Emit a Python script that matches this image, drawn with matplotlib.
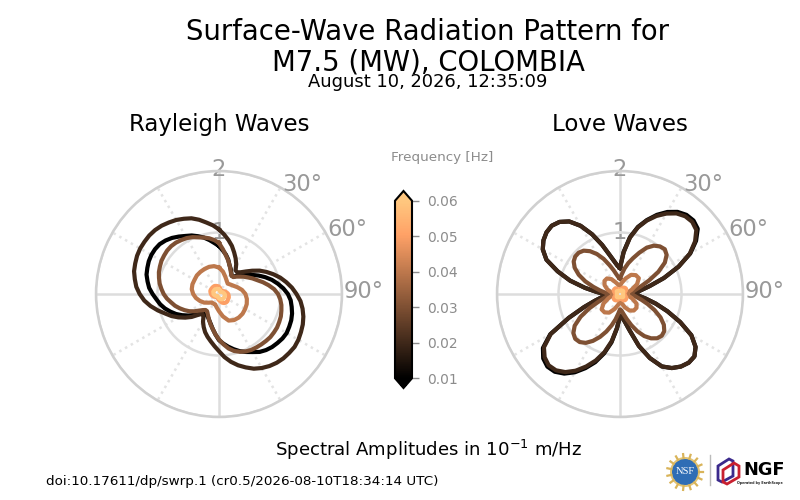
import matplotlib
matplotlib.use('Agg')
import matplotlib.pyplot as plt
import numpy as np
from matplotlib.cm import ScalarMappable
from matplotlib.colors import Normalize
from matplotlib.patches import Circle, Polygon

# azimuth samples (degrees clockwise from north)
azimuth_fine = list(range(0, 360, 5))
azimuth_coarse = list(range(0, 360, 10))
frequencies = [0.01, 0.02, 0.03, 0.04, 0.05, 0.06]
cbar_ticks = [0.01, 0.02, 0.03, 0.04, 0.05, 0.06]

# spectral amplitudes, one list per frequency
rayleigh_001 = [.78, .71, .65, .58, .50, .45, .40, .36, .37, .42, .48, .55, .62, .71, .80, .89, .97, 1.05,
                1.12, 1.17, 1.20, 1.23, 1.25, 1.26, 1.27, 1.26, 1.24, 1.22, 1.19, 1.15, 1.09, 1.04, .99, .93, .87, .81,
                .75, .66, .58, .51, .46, .42, .40, .38, .41, .46, .53, .61, .69, .77, .84, .91, .97, 1.02,
                1.08, 1.14, 1.18, 1.22, 1.24, 1.26, 1.27, 1.27, 1.26, 1.23, 1.19, 1.14, 1.09, 1.05, 1.00, .95, .89, .83]
rayleigh_002 = [1.05, .97, .89, .81, .72, .64, .56, .47, .46, .50, .57, .66, .76, .85, .94, 1.03, 1.11, 1.19,
                1.26, 1.33, 1.38, 1.42, 1.45, 1.47, 1.49, 1.50, 1.49, 1.48, 1.46, 1.43, 1.39, 1.34, 1.27, 1.20, 1.12, 1.03,
                .93, .85, .78, .72, .66, .59, .52, .44, .42, .48, .58, .67, .76, .85, .93, 1.03, 1.13, 1.22,
                1.29, 1.35, 1.39, 1.43, 1.45, 1.47, 1.48, 1.48, 1.48, 1.47, 1.45, 1.42, 1.39, 1.35, 1.31, 1.25, 1.18, 1.12]
rayleigh_003 = [.83, .73, .64, .57, .50, .44, .39, .36, .36, .40, .44, .49, .54, .60, .66, .74, .82, .90,
                .96, 1.00, 1.03, 1.05, 1.07, 1.08, 1.09, 1.09, 1.09, 1.08, 1.07, 1.06, 1.05, 1.03, 1.00, .96, .90, .82,
                .74, .66, .58, .52, .46, .41, .37, .34, .34, .37, .42, .49, .56, .62, .68, .74, .79, .85,
                .90, .94, .98, 1.01, 1.04, 1.06, 1.08, 1.09, 1.10, 1.10, 1.09, 1.07, 1.05, 1.02, .98, .95, .92, .88]
rayleigh_004 = [.43, .37, .30, .25, .22, .24, .27, .32, .38, .43, .46, .48, .49, .50, .50, .49, .46, .37,
                .28, .22, .18, .18, .18, .22, .28, .33, .38, .42, .45, .46, .46, .47, .47, .47, .47, .46]
rayleigh_005 = [.11, .09, .08, .07, .06, .07, .09, .11, .13, .15, .16, .17, .17, .18, .18, .17, .15, .12,
                .10, .08, .07, .06, .06, .07, .09, .10, .12, .13, .14, .15, .15, .15, .15, .15, .14, .13]
rayleigh_006 = [.07, .06, .05, .04, .04, .05, .06, .07, .08, .09, .10, .10, .10, .10, .10, .10, .09, .08,
                .07, .06, .05, .04, .04, .05, .06, .07, .08, .09, .09, .10, .10, .10, .10, .09, .09, .08]

love_001 = [.43, .69, .94, 1.13, 1.28, 1.42, 1.54, 1.63, 1.68, 1.69, 1.65, 1.51, 1.32, 1.05, .76, .50, .34, .27,
            .25, .30, .42, .60, .82, 1.08, 1.34, 1.50, 1.58, 1.58, 1.54, 1.47, 1.36, 1.15, .90, .62, .46, .38,
            .36, .56, .80, 1.00, 1.18, 1.33, 1.47, 1.58, 1.65, 1.67, 1.63, 1.53, 1.31, .92, .62, .42, .30, .26,
            .25, .38, .58, .84, 1.08, 1.32, 1.45, 1.52, 1.56, 1.57, 1.53, 1.44, 1.28, 1.07, .85, .66, .54, .46]
love_002 = [.42, .68, .93, 1.12, 1.27, 1.40, 1.51, 1.60, 1.65, 1.66, 1.62, 1.49, 1.31, 1.05, .76, .50, .34, .27,
            .25, .30, .42, .60, .82, 1.08, 1.34, 1.50, 1.58, 1.58, 1.54, 1.47, 1.36, 1.15, .90, .62, .46, .38,
            .35, .55, .78, .98, 1.15, 1.30, 1.44, 1.55, 1.62, 1.64, 1.60, 1.51, 1.30, .92, .62, .42, .30, .26,
            .25, .38, .58, .84, 1.08, 1.32, 1.45, 1.52, 1.56, 1.57, 1.53, 1.44, 1.28, 1.07, .85, .66, .54, .46]
love_003 = [.25, .32, .42, .52, .62, .74, .87, .96, 1.01, 1.03, .99, .89, .72, .52, .36, .26, .21, .19,
            .19, .22, .27, .36, .48, .62, .76, .87, .94, .96, .94, .88, .79, .67, .54, .42, .33, .27,
            .25, .32, .42, .53, .65, .77, .88, .97, 1.02, 1.03, .99, .90, .74, .55, .38, .27, .21, .19,
            .19, .24, .33, .45, .60, .74, .85, .92, .95, .95, .92, .85, .75, .63, .50, .40, .32, .27]
love_004 = [.14, .19, .27, .36, .40, .40, .32, .20, .12, .11, .13, .21, .31, .35, .35, .31, .23, .15,
            .13, .18, .26, .35, .39, .39, .31, .20, .12, .11, .14, .22, .29, .33, .33, .28, .20, .15]
love_005 = [.07, .08, .10, .12, .13, .13, .11, .08, .07, .07, .07, .09, .12, .13, .13, .12, .09, .07,
            .07, .08, .10, .12, .13, .13, .11, .08, .07, .07, .08, .10, .12, .12, .12, .10, .08, .07]
love_006 = [.05, .05, .06, .06, .07, .07, .06, .05, .05, .05, .05, .05, .06, .07, .07, .06, .05, .05,
            .05, .05, .06, .06, .07, .07, .06, .05, .05, .05, .05, .05, .06, .07, .06, .06, .05, .05]

rayleigh_series = [rayleigh_001, rayleigh_002, rayleigh_003, rayleigh_004, rayleigh_005, rayleigh_006]
love_series = [love_001, love_002, love_003, love_004, love_005, love_006]

W, H = 800, 500
GRAY = '#999999'
CB_GRAY = '#8c8c8c'
norm = Normalize(0.01, 0.06)
cmap = plt.get_cmap('copper')

fig = plt.figure(figsize=(8, 5), dpi=100)


def polar_panel(cx, cy, rad, series, title):
    ax = fig.add_axes([(cx - rad) / W, (H - cy - rad) / H, 2 * rad / W, 2 * rad / H], projection='polar')
    ax.set_theta_zero_location('N')
    ax.set_theta_direction(-1)
    ax.set_ylim(0, 2)
    ax.set_xticks(np.radians([30, 60, 120, 150, 210, 240, 300, 330]))
    ax.set_xticklabels([])
    ax.set_yticks([1, 2])
    ax.set_yticklabels([])
    ax.tick_params(length=0)
    ax.grid(axis='x', color='#e3e3e3', linestyle=':', linewidth=1.8)
    ax.grid(axis='y', color='#dddddd', linestyle='-', linewidth=1.8)
    ax.spines['polar'].set_color('#d0d0d0')
    ax.spines['polar'].set_linewidth(1.8)
    for a in [0, 90, 180, 270]:
        ax.plot([np.radians(a)] * 2, [0, 2], color='#dddddd', lw=1.8, zorder=1)

    # radial labels sit on the north spoke, angle labels hang off the rim
    ax.text(0, 1, '1', ha='center', va='center', fontsize=16.3, color=GRAY, zorder=1.5)
    ax.text(0, 2.03, '2', ha='center', va='center', fontsize=16.3, color=GRAY, zorder=1.5, clip_on=False)
    for a in [30, 60, 90]:
        ax.annotate(f'{a}°', xy=(np.radians(a), 2), xytext=(1.5, 2), textcoords='offset points',
                    ha='left', va='center', fontsize=16.3, color=GRAY, annotation_clip=False)

    for freq, vals in zip(frequencies, series):
        az = azimuth_fine if len(vals) == len(azimuth_fine) else azimuth_coarse
        th = np.radians(az + [az[0]])
        ax.plot(th, vals + [vals[0]], color=cmap(norm(freq)), lw=3, solid_joinstyle='round', zorder=3)

    fig.text(cx / W, (H - 124.5) / H, title, ha='center', va='center', fontsize=16.5)
    return ax


polar_panel(219, 294, 123, rayleigh_series, 'Rayleigh Waves')
polar_panel(620, 294, 123, love_series, 'Love Waves')

# titles
fig.text(428 / W, (H - 32) / H, 'Surface-Wave Radiation Pattern for', ha='center', va='center', fontsize=19.8)
fig.text(428 / W, (H - 62) / H, 'M7.5 (MW), COLOMBIA', ha='center', va='center', fontsize=19.8)
fig.text(428 / W, (H - 82) / H, 'August 10, 2026, 12:35:09', ha='center', va='center', fontsize=12.9)

# colorbar
cax = fig.add_axes([395 / W, (H - 388) / H, 17 / W, 197 / H])
cb = fig.colorbar(ScalarMappable(norm=norm, cmap=cmap), cax=cax, extend='both', extendfrac=0.055, ticks=cbar_ticks)
cb.ax.set_yticklabels([f'{t:.2f}' for t in cbar_ticks])
cb.ax.tick_params(length=5, width=1, colors=CB_GRAY, labelsize=10, pad=6)
cb.outline.set_edgecolor('black')
cb.outline.set_linewidth(1.5)
fig.text(442.5 / W, (H - 158) / H, 'Frequency [Hz]', ha='center', va='center', fontsize=9.7, color=CB_GRAY)

fig.text(428 / W, (H - 450) / H, r'Spectral Amplitudes in $10^{-1}$ m/Hz', ha='center', va='center', fontsize=13.1)
fig.text(46 / W, (H - 481) / H, 'doi:10.17611/dp/swrp.1 (cr0.5/2026-08-10T18:34:14 UTC)',
         ha='left', va='center', fontsize=9.7)

# logos, drawn in pixel coordinates
la = fig.add_axes([0, 0, 1, 1], facecolor='none')
la.set_xlim(0, W)
la.set_ylim(H, 0)
la.axis('off')
for a in np.radians(np.arange(0, 360, 24)):
    la.plot([685 + 14 * np.cos(a), 685 + 18 * np.cos(a)], [472 + 14 * np.sin(a), 472 + 18 * np.sin(a)],
            color='#d9b45a', lw=1.6)
la.add_patch(Circle((685, 472), 15, facecolor='#e2c477', edgecolor='none'))
la.add_patch(Circle((685, 472), 13, facecolor='#2f6db5', edgecolor='none'))
la.text(685, 472, 'NSF', color='white', fontsize=7.5, family='Liberation Serif', ha='center', va='center')
la.plot([710, 710], [455, 485], color='#bbbbbb', lw=1)
la.add_patch(Polygon([(718, 466), (729, 459), (733, 461), (733, 476), (722, 482), (718, 480)],
                     closed=True, facecolor='none', edgecolor='#3b2a8c', lw=2))
la.add_patch(Polygon([(723, 470), (734, 463), (739, 466), (739, 477), (727, 484), (723, 482)],
                     closed=True, facecolor='none', edgecolor='#c8202f', lw=2))
la.text(743, 470, 'NGF', color='black', fontsize=12.8, fontweight='bold', ha='left', va='center')
la.text(737, 483, 'Operated by EarthScope', color='#222222', fontsize=2.45, fontweight='bold', ha='left', va='center')

fig.savefig('out.png', dpi=100)
